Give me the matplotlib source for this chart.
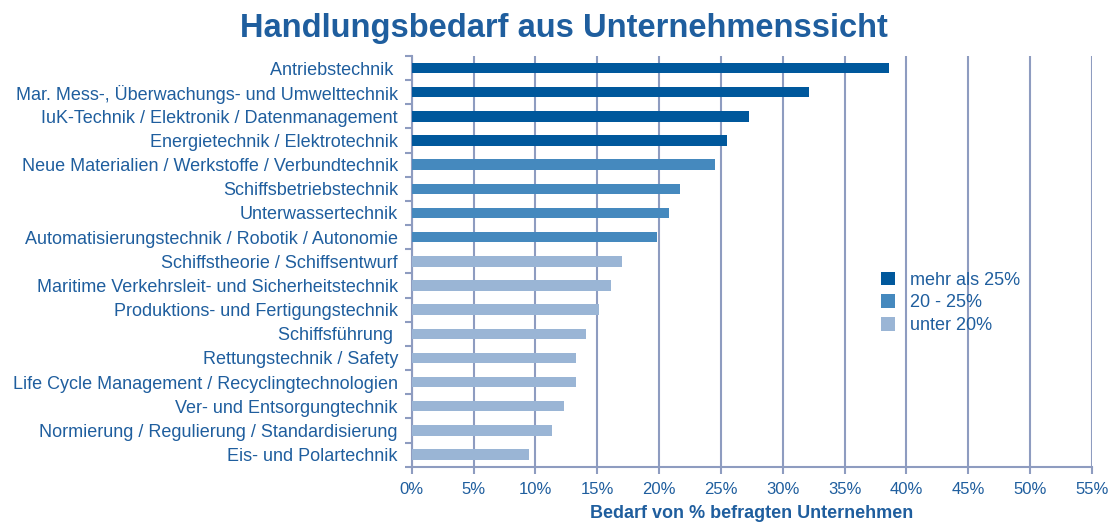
import matplotlib
matplotlib.use("Agg")
import matplotlib.pyplot as plt
from matplotlib.patches import Patch
from matplotlib.ticker import FixedLocator

plt.rcParams['font.family'] = ['Liberation Sans', 'DejaVu Sans']

categories = [
    "Antriebstechnik ",
    "Mar. Mess-, Überwachungs- und Umwelttechnik",
    "IuK-Technik / Elektronik / Datenmanagement",
    "Energietechnik / Elektrotechnik",
    "Neue Materialien / Werkstoffe / Verbundtechnik",
    "Schiffsbetriebstechnik",
    "Unterwassertechnik",
    "Automatisierungstechnik / Robotik / Autonomie",
    "Schiffstheorie / Schiffsentwurf",
    "Maritime Verkehrsleit- und Sicherheitstechnik",
    "Produktions- und Fertigungstechnik",
    "Schiffsführung ",
    "Rettungstechnik / Safety",
    "Life Cycle Management / Recyclingtechnologien",
    "Ver- und Entsorgungtechnik",
    "Normierung / Regulierung / Standardisierung",
    "Eis- und Polartechnik",
]
values = [38.6, 32.1, 27.3, 25.5, 24.5, 21.7, 20.8, 19.8,
          17.0, 16.1, 15.1, 14.1, 13.3, 13.3, 12.3, 11.3, 9.5]
groups = [0, 0, 0, 0, 1, 1, 1, 1, 2, 2, 2, 2, 2, 2, 2, 2, 2]
group_labels = ["mehr als 25%", "20 - 25%", "unter 20%"]
group_colors = ["#00589C", "#4589BE", "#9AB5D5"]
xticks = list(range(0, 56, 5))

text_color = "#1F5E9E"
grid_color = "#8E9CC0"

fig = plt.figure(figsize=(11.13, 5.23), dpi=100)
ax = fig.add_axes([0.370, 0.1077, 0.611, 0.7853])

n = len(categories)
ypos = list(range(n))
ax.barh(ypos, values, height=0.43, color=[group_colors[g] for g in groups], zorder=3)
ax.set_ylim(n - 0.5, -0.5)
ax.set_xlim(0, 55)

ax.set_yticks(ypos)
ax.set_yticklabels(categories, fontsize=13, color=text_color)
ax.yaxis.set_minor_locator(FixedLocator([i - 0.5 for i in range(n + 1)]))
ax.tick_params(axis='y', which='major', length=0, pad=10)
ax.tick_params(axis='y', which='minor', length=5, width=1.5, color=grid_color)

ax.set_xticks(xticks)
ax.set_xticklabels([f"{t}%" for t in xticks], fontsize=12, color=text_color)
ax.tick_params(axis='x', length=5, width=1.5, color=grid_color, pad=6)

ax.grid(axis='x', color=grid_color, linewidth=1.5, zorder=0)
for s in ['top', 'right']:
    ax.spines[s].set_visible(False)
for s in ['left', 'bottom']:
    ax.spines[s].set_color(grid_color)
    ax.spines[s].set_linewidth(1.5)

ax.set_xlabel("Bedarf von % befragten Unternehmen", fontsize=13,
              fontweight='bold', color=text_color, labelpad=6)

handles = [Patch(facecolor=c, edgecolor='none') for c in group_colors]
leg = ax.legend(handles, group_labels, loc='upper left', bbox_to_anchor=(0.690, 0.475),
                frameon=False, fontsize=13, handlelength=0.8, handleheight=0.8,
                handletextpad=0.8, labelspacing=0.3, labelcolor=text_color,
                borderaxespad=0, borderpad=0)

fig.text(0.507, 0.945, "Handlungsbedarf aus Unternehmenssicht", ha='center', va='center',
         fontsize=23.5, fontweight='bold', color=text_color)

fig.savefig("out.png", dpi=100)
